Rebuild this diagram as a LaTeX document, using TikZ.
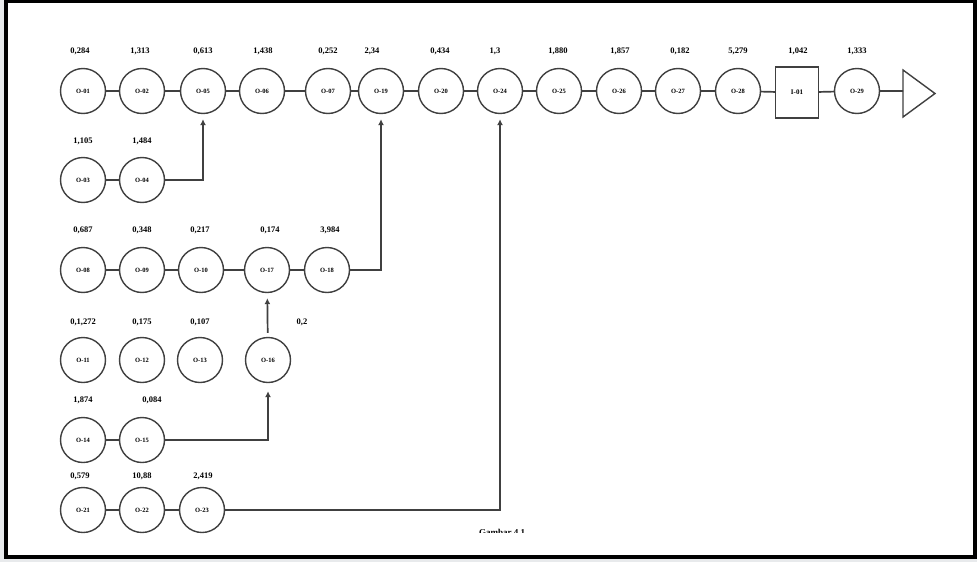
\documentclass[tikz,border=0pt]{standalone}
\usepackage{fontspec}
\setmainfont{Liberation Serif}
\usetikzlibrary{arrows.meta}
\definecolor{bggray}{HTML}{E8EAEC}
\definecolor{ln}{HTML}{404040}
\begin{document}
\begin{tikzpicture}[x=1pt,y=-1pt,
  stn/.style={circle, draw=ln, line width=1.4pt, minimum size=45pt, inner sep=0pt, font=\fontsize{6.5}{7}\selectfont\bfseries},
  boxstn/.style={rectangle, draw=ln, line width=1.4pt, minimum width=43pt, minimum height=51pt, inner sep=0pt, font=\fontsize{7}{8}\selectfont\bfseries},
  val/.style={font=\fontsize{8.5}{9}\selectfont\bfseries, inner sep=0pt},
  link/.style={draw=ln, line width=1.7pt},
  feed/.style={link, -{Latex[length=6pt,width=6pt]}, shorten >=5pt}]
\useasboundingbox (0,0) rectangle (977,562);
\fill[bggray] (0,0) rectangle (977,562);
\fill[white] (6,1.5) rectangle (975,557);
\draw[line width=3.5pt] (6,1.5) rectangle (975,557);

% row 1
\node[stn] (O01) at (83,91) {O-01};
\node[stn] (O02) at (142,91) {O-02};
\node[stn] (O05) at (203,91) {O-05};
\node[stn] (O06) at (262,91) {O-06};
\node[stn] (O07) at (328,91) {O-07};
\node[stn] (O19) at (381,91) {O-19};
\node[stn] (O20) at (441,91) {O-20};
\node[stn] (O24) at (500,91) {O-24};
\node[stn] (O25) at (559,91) {O-25};
\node[stn] (O26) at (619,91) {O-26};
\node[stn] (O27) at (678,91) {O-27};
\node[stn] (O28) at (738,91) {O-28};
\node[boxstn] (I01) at (797,92.5) {I-01};
\node[stn] (O29) at (857,91) {O-29};
\coordinate (Tin) at (903,91);
\draw[ln, line width=1.4pt, line join=miter] (903,70) -- (935,93.5) -- (903,117) -- cycle;

\node[val] (v01) at (80,51) {0,284};
\node[val] (v02) at (140,51) {1,313};
\node[val] (v05) at (203,51) {0,613};
\node[val] (v06) at (263,51) {1,438};
\node[val] (v07) at (328,51) {0,252};
\node[val] (v19) at (372,51) {2,34};
\node[val] (v20) at (440,51) {0,434};
\node[val] (v24) at (495,51) {1,3};
\node[val] (v25) at (558,51) {1,880};
\node[val] (v26) at (620,51) {1,857};
\node[val] (v27) at (680,51) {0,182};
\node[val] (v28) at (738,51) {5,279};
\node[val] (vI1) at (798,51) {1,042};
\node[val] (v29) at (857,51) {1,333};

% row 2
\node[stn] (O03) at (83,180) {O-03};
\node[stn] (O04) at (142,180) {O-04};
\node[val] (v03) at (83,141) {1,105};
\node[val] (v04) at (142,141) {1,484};

% row 3
\node[stn] (O08) at (83,270) {O-08};
\node[stn] (O09) at (142,270) {O-09};
\node[stn] (O10) at (201,270) {O-10};
\node[stn] (O17) at (267,270) {O-17};
\node[stn] (O18) at (327,270) {O-18};
\node[val] (v08) at (83,230) {0,687};
\node[val] (v09) at (142,230) {0,348};
\node[val] (v10) at (200,230) {0,217};
\node[val] (v17) at (270,230) {0,174};
\node[val] (v18) at (330,230) {3,984};

% row 4
\node[stn] (O11) at (83,360) {O-11};
\node[stn] (O12) at (142,360) {O-12};
\node[stn] (O13) at (200,360) {O-13};
\node[stn] (O16) at (268,360) {O-16};
\node[val] (v11) at (83,322) {0,1,272};
\node[val] (v12) at (142,322) {0,175};
\node[val] (v13) at (200,322) {0,107};
\node[val] (v16) at (302,322) {0,2};

% row 5
\node[stn] (O14) at (83,440) {O-14};
\node[stn] (O15) at (142,440) {O-15};
\node[val] (v14) at (83,400) {1,874};
\node[val] (v15) at (152,400) {0,084};

% row 6
\node[stn] (O21) at (83,510) {O-21};
\node[stn] (O22) at (142,510) {O-22};
\node[stn] (O23) at (202,510) {O-23};
\node[val] (v21) at (80,476) {0,579};
\node[val] (v22) at (142,476) {10,88};
\node[val] (v23) at (203,476) {2,419};

% main line and branch lines
\draw[link] (O01) -- (O02) -- (O05) -- (O06) -- (O07) -- (O19) -- (O20) -- (O24) -- (O25) -- (O26) -- (O27) -- (O28) -- (I01) -- (O29) -- (Tin);
\draw[link] (O03) -- (O04);
\draw[link] (O08) -- (O09) -- (O10) -- (O17) -- (O18);
\draw[link] (O14) -- (O15);
\draw[link] (O21) -- (O22) -- (O23);

% feeders
\draw[feed] (O04) -| (O05);
\draw[feed] (O18) -| (O19);
\draw[feed, shorten <=4pt] (O16) -- (O17);
\draw[feed, shorten >=8pt] (O15) -| (O16);
\draw[feed] (O23) -| (O24);

% caption (cut off at the frame)
\begin{scope}
\clip (400,520) rectangle (600,532.5);
\node[font=\fontsize{9}{10}\selectfont\bfseries, anchor=base, inner sep=0pt] (cap) at (502,535) {Gambar 4.1};
\end{scope}
\end{tikzpicture}
\end{document}
